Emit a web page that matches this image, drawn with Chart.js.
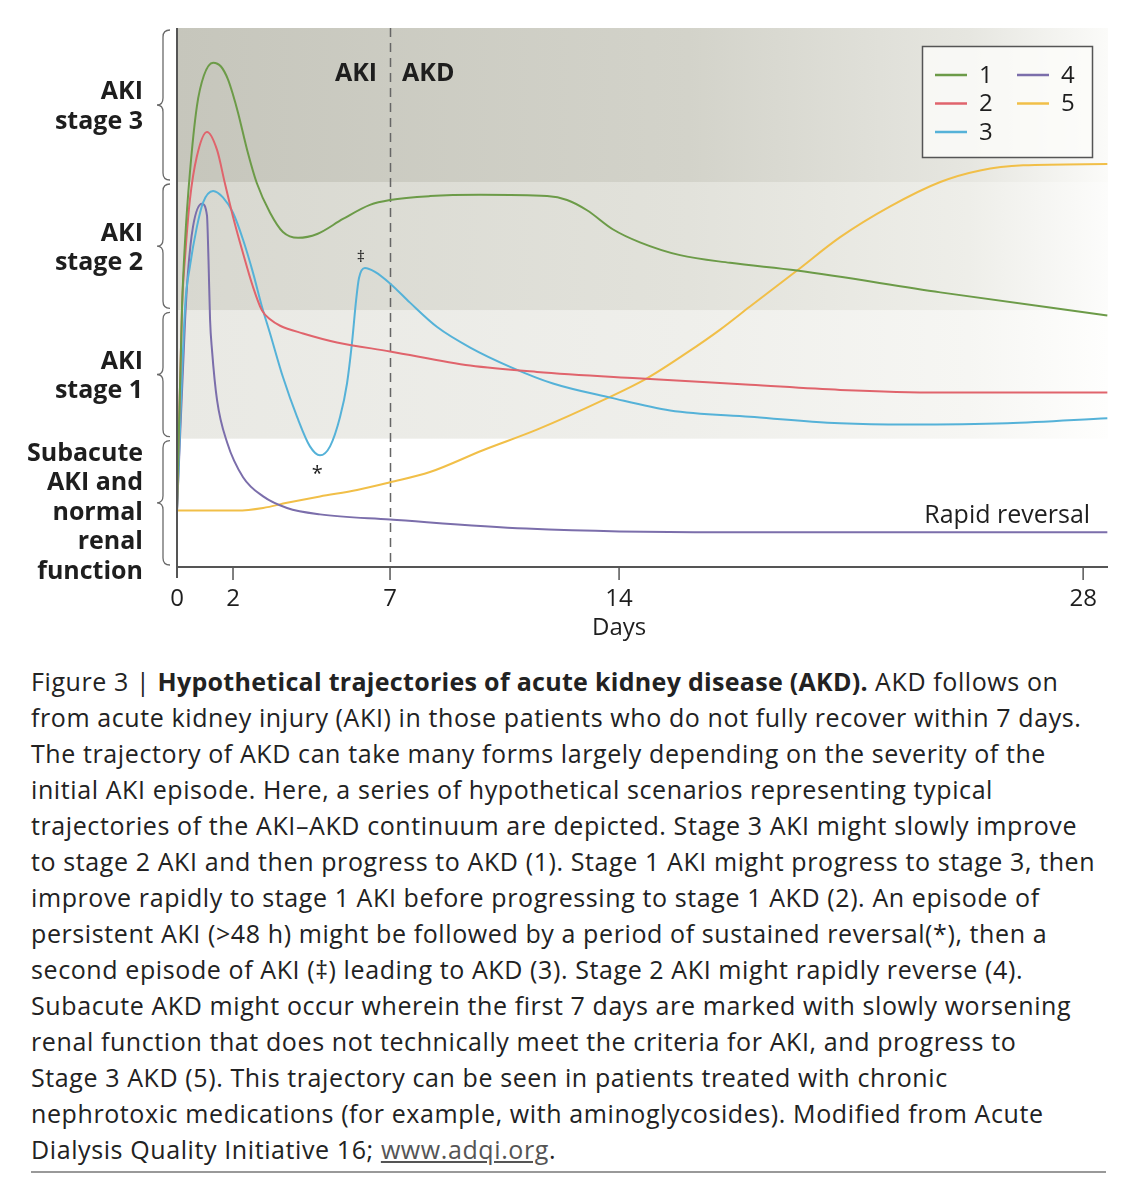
<!DOCTYPE html>
<html>
<head>
<meta charset="utf-8">
<title>Hypothetical trajectories of AKD</title>
<script src="https://cdn.jsdelivr.net/npm/chart.js@4.4.1/dist/chart.umd.min.js"></script>
<style>
    html, body { margin: 0; padding: 0; background: #fff; }
    body { width: 1141px; height: 1200px; position: relative; overflow: hidden; font-family: 'Open Sans', sans-serif; }
    #chart { position: absolute; left: 0; top: 0; }
    .caption { position: absolute; left: 31px; top: 663px; font-size: 25px; letter-spacing: 0.6px; line-height: 36px; color: #222; white-space: nowrap; }
    .caption b { font-weight: 700; letter-spacing: 0.3px; }
    .caption .url { color: #555; text-decoration: underline; }
    .rule { position: absolute; left: 31px; top: 1171px; width: 1075px; height: 2px; background: #999; }
</style>
</head>
<body>
<canvas id="chart" width="1141" height="645"></canvas>
<div class="caption">
Figure 3 | <b>Hypothetical trajectories of acute kidney disease (AKD).</b> AKD follows on<br>
from acute kidney injury (AKI) in those patients who do not fully recover within 7 days.<br>
The trajectory of AKD can take many forms largely depending on the severity of the<br>
initial AKI episode. Here, a series of hypothetical scenarios representing typical<br>
trajectories of the AKI–AKD continuum are depicted. Stage 3 AKI might slowly improve<br>
to stage 2 AKI and then progress to AKD (1). Stage 1 AKI might progress to stage 3, then<br>
improve rapidly to stage 1 AKI before progressing to stage 1 AKD (2). An episode of<br>
persistent AKI (&gt;48 h) might be followed by a period of sustained reversal(*), then a<br>
second episode of AKI (‡) leading to AKD (3). Stage 2 AKI might rapidly reverse (4).<br>
Subacute AKD might occur wherein the first 7 days are marked with slowly worsening<br>
renal function that does not technically meet the criteria for AKI, and progress to<br>
Stage 3 AKD (5). This trajectory can be seen in patients treated with chronic<br>
nephrotoxic medications (for example, with aminoglycosides). Modified from Acute<br>
Dialysis Quality Initiative 16; <span class="url">www.adqi.org</span>.
</div>
<div class="rule"></div>
<script>
    // ---- data (x = days, y = severity: 1, 2, 3 are the AKI stage thresholds) ----
    const SERIES_LABELS = ['1', '2', '3', '4', '5'];

    const days1 = [0, 0.18, 0.29, 0.46, 0.71, 0.96, 1.29, 1.57, 1.82, 2.0, 2.16, 2.45, 2.76, 3.18, 3.59, 4.07, 4.68,
        5.5, 6.36, 7.0, 8.22, 9.75, 11.8, 12.41, 13.02, 13.82, 14.63, 15.84, 17.35, 19.37, 23.69, 28.73];
    const level1 = [0.44, 2.03, 2.55, 3.07, 3.59, 3.83, 3.93, 3.9, 3.8, 3.68, 3.54, 3.25, 2.99, 2.76, 2.61, 2.565, 2.595,
        2.712, 2.822, 2.86, 2.89, 2.9, 2.89, 2.86, 2.78, 2.63, 2.53, 2.43, 2.37, 2.31, 2.14, 1.96];

    const days2 = [0, 0.18, 0.29, 0.46, 0.71, 1.07, 1.43, 1.71, 2.0, 2.29, 2.64, 2.92, 3.18, 3.5, 4.23, 5.31,
        7.0, 9.45, 11.49, 14.54, 17.95, 20.67, 23.69, 28.73];
    const level2 = [0.44, 2.03, 2.42, 2.86, 3.2, 3.39, 3.25, 2.99, 2.73, 2.47, 2.18, 2.0, 1.93, 1.88, 1.82, 1.75,
        1.68, 1.57, 1.52, 1.47, 1.42, 1.38, 1.36, 1.36];

    const days3 = [0, 0.29, 0.46, 0.71, 0.93, 1.29, 1.64, 2.0, 2.32, 2.64, 2.92, 3.18, 3.59, 4.04, 4.45, 4.77,
        5.09, 5.41, 5.63, 5.79, 5.92, 6.01, 6.2, 6.52, 7.0, 7.61, 8.44, 9.45, 10.67, 11.98, 13.73, 15.54,
        17.95, 20.67, 22.69, 25.71, 28.73];
    const level3 = [0.44, 2.03, 2.34, 2.65, 2.84, 2.93, 2.88, 2.76, 2.55, 2.29, 2.03, 1.82, 1.48, 1.17, 0.94, 0.87,
        0.94, 1.17, 1.43, 1.75, 2.08, 2.25, 2.33, 2.3, 2.21, 2.06, 1.87, 1.71, 1.56, 1.43, 1.32, 1.22,
        1.17, 1.12, 1.11, 1.12, 1.16];

    const days4 = [0, 0.29, 0.39, 0.57, 0.89, 1.07, 1.125, 1.18, 1.25, 1.43, 1.79, 2.32, 2.96, 3.72, 4.77,
        7.0, 11.16, 17.05, 22.9, 28.73];
    const level4 = [0.44, 1.93, 2.29, 2.65, 2.83, 2.74, 2.39, 1.93, 1.69, 1.3, 0.97, 0.7, 0.55, 0.46, 0.41,
        0.37, 0.3, 0.27, 0.27, 0.27];

    const days5 = [0, 2.13, 2.96, 3.72, 4.77, 5.95, 7.0, 8.22, 9.84, 11.49, 13.51, 14.84, 16.05, 17.05, 17.95,
        19.37, 20.67, 22.18, 23.69, 24.89, 26.19, 28.73];
    const level5 = [0.44, 0.44, 0.46, 0.5, 0.55, 0.6, 0.66, 0.74, 0.91, 1.07, 1.3, 1.47, 1.67, 1.85, 2.03,
        2.31, 2.57, 2.81, 3.0, 3.09, 3.13, 3.14];

    const TICK_DAYS = [0, 2, 7, 14, 28];
    const TICK_LABELS = ['0', '2', '7', '14', '28'];
    const SPLIT_DAY = 7;
    const BAND_EDGES = [0, 1, 2, 3, 4.2];
    const BAND_LABELS = [
        ['Subacute', 'AKI and', 'normal', 'renal', 'function'],
        ['AKI', 'stage 1'],
        ['AKI', 'stage 2'],
        ['AKI', 'stage 3'],
    ];

    // ---- look ----
    const COLORS = ['#6c9b48', '#e0646c', '#55b2d8', '#7b6eab', '#f1bf48'];
    const BAND_FILLS = [
        ['#ffffff', '#ffffff', '#ffffff', '#ffffff'],
        ['#e9e9e4', '#efefeb', '#f6f6f3', '#fefefd'],
        ['#d8d8d0', '#e2e2db', '#eeeee9', '#fcfcfb'],
        ['#c6c6bc', '#d3d3ca', '#e6e6e0', '#fbfbf9'],
    ];
    const FONT = "'Open Sans', 'DejaVu Sans', sans-serif";
    const INK = '#1e1e1e';

    // the day axis is stretched unevenly in the figure: first two days wider
    const KNOT_DAYS = [0, 2, 7, 14, 28];
    const KNOT_UNITS = [0, 56, 213, 442, 906];
    const LAST_DAY = 28.75;

    function dayToUnit(d) {
        for (let i = 1; i < KNOT_DAYS.length; i++) {
            if (d <= KNOT_DAYS[i] || i === KNOT_DAYS.length - 1) {
                const t = (d - KNOT_DAYS[i - 1]) / (KNOT_DAYS[i] - KNOT_DAYS[i - 1]);
                return KNOT_UNITS[i - 1] + t * (KNOT_UNITS[i] - KNOT_UNITS[i - 1]);
            }
        }
        return 0;
    }

    const seriesDays = [days1, days2, days3, days4, days5];
    const seriesLevels = [level1, level2, level3, level4, level5];

    function brace(ctx, x, top, bot) {
        const mid = (top + bot) / 2;
        const r = 7;
        ctx.beginPath();
        ctx.moveTo(x + 7, top);
        ctx.quadraticCurveTo(x, top, x, top + r);
        ctx.lineTo(x, mid - r);
        ctx.quadraticCurveTo(x, mid, x - 6, mid);
        ctx.quadraticCurveTo(x, mid, x, mid + r);
        ctx.lineTo(x, bot - r);
        ctx.quadraticCurveTo(x, bot, x + 7, bot);
        ctx.stroke();
    }

    const backdrop = {
        id: 'backdrop',
        beforeDatasetsDraw(chart) {
            const { ctx, chartArea: a, scales: { x, y } } = chart;
            ctx.save();
            BAND_FILLS.forEach((stops, i) => {
                const top = y.getPixelForValue(BAND_EDGES[i + 1]);
                const bot = y.getPixelForValue(BAND_EDGES[i]);
                const g = ctx.createLinearGradient(a.left, 0, a.right, 0);
                g.addColorStop(0, stops[0]);
                g.addColorStop(0.55, stops[1]);
                g.addColorStop(0.85, stops[2]);
                g.addColorStop(1, stops[3]);
                ctx.fillStyle = g;
                ctx.fillRect(a.left, top, a.width, bot - top);
            });

            // AKI / AKD split
            const sx = Math.round(x.getPixelForValue(dayToUnit(SPLIT_DAY))) + 0.5;
            ctx.strokeStyle = '#666';
            ctx.lineWidth = 1.5;
            ctx.setLineDash([9, 6]);
            ctx.beginPath();
            ctx.moveTo(sx, a.top);
            ctx.lineTo(sx, a.bottom);
            ctx.stroke();
            ctx.restore();
        },
    };

    const frame = {
        id: 'frame',
        afterDatasetsDraw(chart) {
            const { ctx, chartArea: a, scales: { x, y } } = chart;
            ctx.save();

            // axes
            ctx.strokeStyle = '#555';
            ctx.lineWidth = 2;
            ctx.beginPath();
            ctx.moveTo(a.left, a.top);
            ctx.lineTo(a.left, a.bottom + 11);
            ctx.moveTo(a.left, a.bottom);
            ctx.lineTo(a.right, a.bottom);
            ctx.stroke();

            ctx.fillStyle = INK;
            ctx.font = `24px ${FONT}`;
            ctx.textAlign = 'center';
            ctx.textBaseline = 'middle';
            ctx.lineWidth = 1.5;
            TICK_DAYS.forEach((d, i) => {
                const px = x.getPixelForValue(dayToUnit(d));
                if (d > 0) {
                    ctx.beginPath();
                    ctx.moveTo(px, a.bottom);
                    ctx.lineTo(px, a.bottom + 13);
                    ctx.stroke();
                }
                ctx.fillText(TICK_LABELS[i], px, a.bottom + 32);
            });
            ctx.fillText('Days', x.getPixelForValue(dayToUnit(14)), a.bottom + 61);

            // stage labels with braces
            BAND_LABELS.forEach((lines, i) => {
                const top = y.getPixelForValue(BAND_EDGES[i + 1]);
                const bot = y.getPixelForValue(BAND_EDGES[i]);
                ctx.strokeStyle = '#6a6a6a';
                ctx.lineWidth = 1.3;
                brace(ctx, a.left - 14, top + 2, bot - 2);
                ctx.font = `bold 25px ${FONT}`;
                ctx.textAlign = 'right';
                ctx.fillStyle = INK;
                const c = (top + bot) / 2 + (lines.length > 2 ? 10 : 2);
                lines.forEach((t, k) => {
                    ctx.fillText(t, a.left - 34, c + (k - (lines.length - 1) / 2) * 29.5);
                });
            });

            // AKI | AKD
            const sx = x.getPixelForValue(dayToUnit(SPLIT_DAY));
            const ly = y.getPixelForValue(3.84);
            ctx.font = `bold 25px ${FONT}`;
            ctx.textAlign = 'right';
            ctx.fillText('AKI', sx - 13, ly);
            ctx.textAlign = 'left';
            ctx.fillText('AKD', sx + 12, ly);

            // notes
            ctx.font = `25px ${FONT}`;
            ctx.textAlign = 'right';
            ctx.fillText('Rapid reversal', x.getPixelForValue(dayToUnit(28.21)), y.getPixelForValue(0.4));
            ctx.font = `20px ${FONT}`;
            ctx.textAlign = 'center';
            ctx.fillText('*', x.getPixelForValue(dayToUnit(4.68)), y.getPixelForValue(0.72));
            ctx.font = `16px ${FONT}`;
            ctx.fillText('‡', x.getPixelForValue(dayToUnit(6.07)), y.getPixelForValue(2.41));

            // legend box, two columns
            const bx = 922, by = 46, bw = 170, bh = 111;
            ctx.fillStyle = 'rgba(252,252,250,0.8)';
            ctx.fillRect(bx, by, bw, bh);
            ctx.strokeStyle = '#555';
            ctx.lineWidth = 1.5;
            ctx.strokeRect(bx + 0.5, by + 0.5, bw, bh);
            ctx.font = `24px ${FONT}`;
            ctx.textAlign = 'left';
            chart.data.datasets.forEach((ds, i) => {
                const col = i < 3 ? 0 : 1;
                const row = i < 3 ? i : i - 3;
                const lx = bx + 13 + col * 82;
                const cy = by + 29 + row * 28.5;
                ctx.strokeStyle = ds.borderColor;
                ctx.lineWidth = 2.5;
                ctx.beginPath();
                ctx.moveTo(lx, cy);
                ctx.lineTo(lx + 32, cy);
                ctx.stroke();
                ctx.fillStyle = INK;
                ctx.fillText(ds.label, lx + 44, cy + 1);
            });
            ctx.restore();
        },
    };

    new Chart(document.getElementById('chart').getContext('2d'), {
        type: 'line',
        data: {
            datasets: SERIES_LABELS.map((label, i) => ({
                label,
                data: seriesDays[i].map((d, k) => ({ x: dayToUnit(d), y: seriesLevels[i][k] })),
                borderColor: COLORS[i],
                borderWidth: 2,
                pointRadius: 0,
                fill: false,
                cubicInterpolationMode: 'monotone',
            })),
        },
        options: {
            responsive: false,
            animation: false,
            devicePixelRatio: 1,
            layout: { padding: { left: 177, top: 28, right: 33, bottom: 78 } },
            scales: {
                x: { type: 'linear', min: 0, max: dayToUnit(LAST_DAY), display: false },
                y: { type: 'linear', min: 0, max: 4.2, display: false },
            },
            plugins: {
                legend: { display: false },
                tooltip: { enabled: false },
            },
        },
        plugins: [backdrop, frame],
    });
</script>
</body>
</html>
